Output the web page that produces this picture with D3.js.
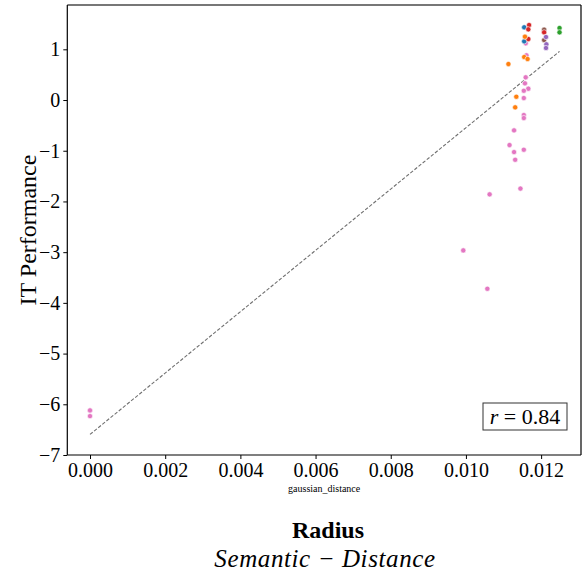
<!DOCTYPE html>
<html><head><meta charset="utf-8">
<script src="https://cdn.jsdelivr.net/npm/d3@7"></script>
<style>body{margin:0;background:#fff;} svg{display:block;} text{font-family:"Liberation Serif","Times New Roman",serif;}</style>
</head><body>
<svg id="c" width="586" height="574"></svg>
<script>
// ---- data ----
const xTicks = [0, 0.002, 0.004, 0.006, 0.008, 0.010, 0.012];
const yTicks = [1, 0, -1, -2, -3, -4, -5, -6, -7];
const groups = ["pink","brown","blue","orange","red","purple","green"];
const groupColors = ["#e377c2","#8c564b","#1f77b4","#ff7f0e","#d62728","#9467bd","#2ca02c"];
const ptX = [0.01159,0.01161,0.01208,0.01155,0.01155,0.01168,0.01166,0.01166,0.01208,0.01157,0.01155,0.01164,0.01113,0.01134,0.01131,
  0.01208,0.01213,0.01214,0.01213,0.01249,0.01249,
  0.01159,0.01157,0.01166,0.01154,0.01154,0.01154,0.01154,0.01128,0.01116,0.01128,0.01154,0.01131,0.01145,0.01063,0.00993,0.01057,0.0,0.0];
const ptY = [1.118,0.882,1.387,1.434,1.158,1.479,1.394,1.203,1.335,1.249,0.848,0.809,0.710,0.065,-0.144,
  1.183,1.243,1.099,1.026,1.420,1.335,
  0.448,0.329,0.223,0.183,0.039,-0.296,-0.355,-0.598,-0.888,-1.026,-0.980,-1.178,-1.746,-1.860,-2.965,-3.722,-6.120,-6.233];
const ptG = ["pink","pink","brown","blue","blue","red","red","red","red","orange","orange","orange","orange","orange","orange",
  "brown","purple","purple","purple","green","green",
  "pink","pink","pink","pink","pink","pink","pink","pink","pink","pink","pink","pink","pink","pink","pink","pink","pink","pink"];
const fitX = [0.0, 0.01249];
const fitY = [-6.594, 0.960];
const rLabel = "0.84";

// ---- chart ----
const svg = d3.select("#c");
const L = 67.3, R = 581, T = 5, B = 455;
const x = d3.scaleLinear().domain([-0.000604, 0.013061]).range([L, R]);
const y = d3.scaleLinear().domain([-7.0, 1.874]).range([B, T]);
const color = d3.scaleOrdinal().domain(groups).range(groupColors);
const serif = "'Liberation Serif','Times New Roman',serif";

// regression line
svg.append("line")
  .attr("x1", x(fitX[0])).attr("y1", y(fitY[0]))
  .attr("x2", x(fitX[1])).attr("y2", y(fitY[1]))
  .attr("stroke", "#707070").attr("stroke-width", 1.1)
  .attr("stroke-dasharray", "3.5,1.8");

// points
const pts = ptX.map((v, i) => ({x: v, y: ptY[i], g: ptG[i]}));
svg.append("g").selectAll("circle").data(pts).join("circle")
  .attr("cx", d => x(d.x)).attr("cy", d => y(d.y)).attr("r", 2.6)
  .attr("fill", d => color(d.g)).attr("stroke", "#fff").attr("stroke-width", 0.6);

// axes
const xAxis = svg.append("g").attr("transform", `translate(0,${B})`)
  .call(d3.axisBottom(x).tickValues(xTicks).tickFormat(d3.format(".3f")).tickSizeOuter(0).tickSize(4));
const yAxis = svg.append("g").attr("transform", `translate(${L},0)`)
  .call(d3.axisLeft(y).tickValues(yTicks).tickFormat(d => d < 0 ? "\u2212" + Math.abs(d) : String(d)).tickSizeOuter(0).tickSize(4));
[xAxis, yAxis].forEach(a => {
  a.attr("font-family", null).attr("font-size", null);
  a.select(".domain").remove();
  a.selectAll("line").attr("stroke", "#000").attr("stroke-width", 1);
  a.selectAll("text").style("font-family", serif).style("font-size", "20px").attr("fill", "#000");
});
xAxis.selectAll("text").attr("dy", "0.8em").attr("y", 6);
yAxis.selectAll("text").attr("x", -7);

// frame
svg.append("line").attr("x1", L).attr("x2", R).attr("y1", T).attr("y2", T).attr("stroke", "#777").attr("stroke-width", 2);
svg.append("line").attr("x1", L).attr("x2", L).attr("y1", T).attr("y2", B).attr("stroke", "#000").attr("stroke-width", 1.2);
svg.append("line").attr("x1", R).attr("x2", R).attr("y1", T).attr("y2", B).attr("stroke", "#000").attr("stroke-width", 1.2);
svg.append("line").attr("x1", L).attr("x2", R).attr("y1", B).attr("y2", B).attr("stroke", "#000").attr("stroke-width", 1.2);

// labels
svg.append("text").attr("transform", "translate(36,230) rotate(-90)")
  .attr("text-anchor", "middle").style("font-family", serif).style("font-size", "24px").text("IT Performance");
svg.append("text").attr("x", (L + R) / 2).attr("y", 492).attr("text-anchor", "middle")
  .style("font-family", serif).style("font-size", "10px").text("gaussian_distance");
svg.append("text").attr("x", 328).attr("y", 538).attr("text-anchor", "middle")
  .style("font-family", serif).style("font-size", "24px").attr("font-weight", "bold").text("Radius");
svg.append("text").attr("x", 325).attr("y", 567).attr("text-anchor", "middle")
  .style("font-family", serif).style("font-size", "25px").style("letter-spacing", "0.6px").attr("font-style", "italic").text("Semantic \u2212 Distance");

// r box
svg.append("rect").attr("x", 483).attr("y", 403).attr("width", 84).attr("height", 27)
  .attr("fill", "#fff").attr("stroke", "#333").attr("stroke-width", 1);
const rt = svg.append("text").attr("x", 525).attr("y", 423.5).attr("text-anchor", "middle")
  .style("font-family", serif).style("font-size", "22px");
rt.append("tspan").attr("font-style", "italic").text("r");
rt.append("tspan").text(" = " + rLabel);
</script>
</body></html>
